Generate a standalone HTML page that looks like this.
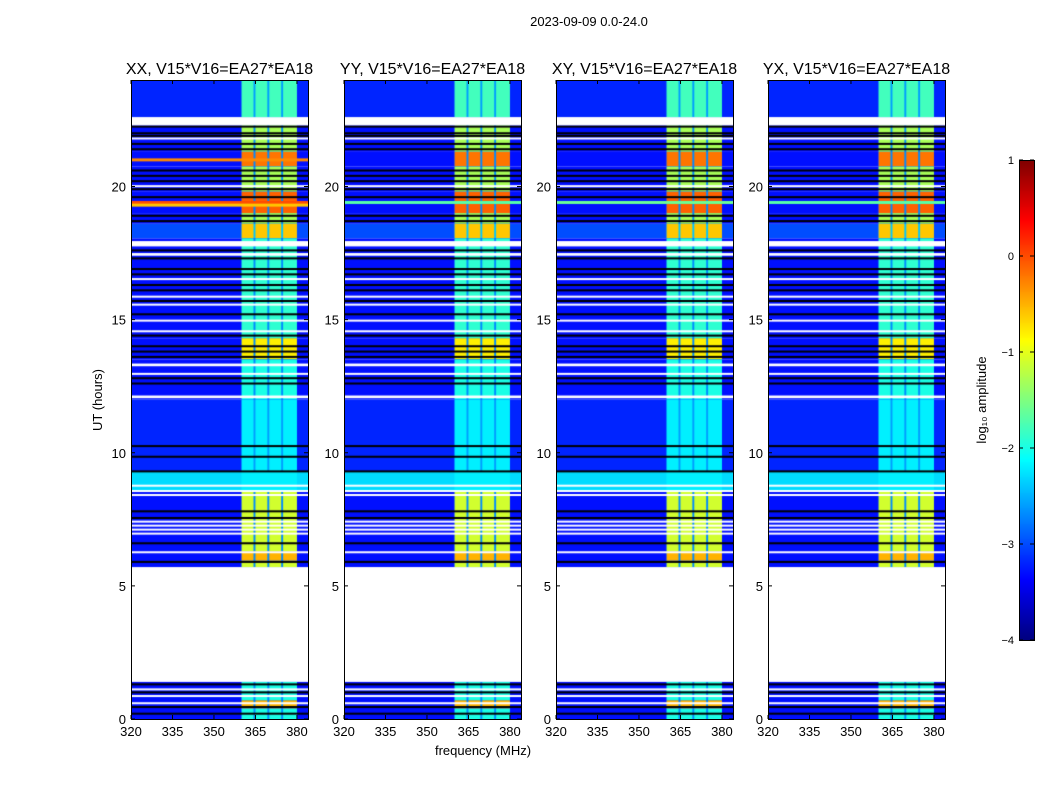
<!DOCTYPE html>
<html><head><meta charset="utf-8"><style>
body{margin:0;background:#fff;}
#root{position:relative;width:1050px;height:800px;font-family:"Liberation Sans",sans-serif;overflow:hidden;}
canvas{position:absolute;}
svg{position:absolute;left:0;top:0;}
</style></head><body>
<div id="root">
<svg id="svg" width="1050" height="800"></svg>
</div>
<script>
// ---- data ----
const panelTitles = ["XX, V15*V16=EA27*EA18","YY, V15*V16=EA27*EA18","XY, V15*V16=EA27*EA18","YX, V15*V16=EA27*EA18"];
const panelLefts = [131,344,556,768];
const xTicks = [320,335,350,365,380];
const yTicks = [0,5,10,15,20];
const cbTicks = [1,0,-1,-2,-3,-4];
// segments: [t0, t1, background log amp, rfi-band log amp]
const segT0 = [22.6,21.3,20.75,19.8,19.0,18.6,18.05,14.3,13.5,12.0,9.3,8.55,5.7,5.95,0,0.4];
const segT1 = [24,22.3,21.3,20.75,19.8,19.0,18.6,18.05,14.3,13.5,12.0,9.3,8.55,6.3,1.4,0.7];
const segBg = [-3.2,-3.3,-3.3,-3.3,-3.3,-3.3,-3.0,-3.3,-3.3,-3.3,-3.2,-2.3,-3.3,-3.3,-3.3,-3.3];
const segRfi = [-1.8,-1.3,-0.2,-1.3,-0.1,-1.3,-0.6,-1.9,-0.8,-2.0,-2.2,-2.2,-1.1,-0.5,-2.0,-0.5];
// rfi sub-bands (MHz)
const bandLo = [360,365,370,375];
const bandHi = [364.3,369.3,374.3,380];
// full-width lines per panel: times and levels
const lineT = [[21.0,19.4,19.3],[19.4],[19.4],[19.4]];
const lineV = [[-0.3,0.0,-0.6],[-1.7],[-1.6],[-1.7]];
// white (flagged) gaps
const gapT0 = [22.3,21.8,20.0,17.75,17.4,16.5,15.85,15.55,14.95,14.55,13.25,12.95,12.05,8.75,8.55,8.4,7.4,7.25,7.1,6.95,6.25,1.4,1.1,0.85,0.6];
const gapT1 = [22.6,21.84,20.05,17.95,17.5,16.56,15.9,15.6,15.0,14.6,13.35,13.0,12.15,8.8,8.6,8.45,7.45,7.3,7.15,7.0,6.3,5.7,1.15,0.9,0.63];
// dark lines
const darkT = [22.25,22.0,21.9,21.6,21.4,20.6,20.4,20.2,19.9,19.6,18.9,18.7,17.6,17.3,16.9,16.7,16.3,16.1,15.7,15.2,14.4,14.0,13.8,13.6,12.8,12.6,10.25,9.85,9.3,7.8,7.55,6.6,5.9,1.3,1.0,0.45,0.2];

// ---- geometry ----
const PW=177, PT=80, PH=639, F0=320, F1=384, T0=0, T1=24;
const fx = f => (f-F0)/(F1-F0)*PW;
const ty = t => PH-(t-T0)/(T1-T0)*PH;
function jet(v){
  const c=x=>Math.max(0,Math.min(1,x));
  const r=c(1.5-Math.abs(4*v-3)), g=c(1.5-Math.abs(4*v-2)), b=c(1.5-Math.abs(4*v-1));
  return `rgb(${Math.round(r*255)},${Math.round(g*255)},${Math.round(b*255)})`;
}
const col = a => jet((a+4)/5);

const root=document.getElementById('root');
const svg=document.getElementById('svg');
const NS='http://www.w3.org/2000/svg';
function txt(x,y,s,size,anchor,rot){
  const t=document.createElementNS(NS,'text');
  t.setAttribute('x',x);t.setAttribute('y',y);t.setAttribute('font-size',size);
  t.setAttribute('text-anchor',anchor||'middle');t.setAttribute('fill','#000');
  if(rot)t.setAttribute('transform',`rotate(-90 ${x} ${y})`);
  t.textContent=s;svg.appendChild(t);return t;
}
function line(x1,y1,x2,y2){
  const l=document.createElementNS(NS,'line');
  l.setAttribute('x1',x1);l.setAttribute('y1',y1);l.setAttribute('x2',x2);l.setAttribute('y2',y2);
  l.setAttribute('stroke','#000');l.setAttribute('stroke-width',1);svg.appendChild(l);return l;
}

panelLefts.forEach((L,p)=>{
  const cv=document.createElement('canvas');
  cv.width=PW;cv.height=PH;cv.style.left=L+'px';cv.style.top=PT+'px';
  
  
  root.insertBefore(cv,svg);
  const g=cv.getContext('2d');
  g.fillStyle='#fff';g.fillRect(0,0,PW,PH);
  for(let i=0;i<segT0.length;i++){
    const y0=ty(segT1[i]), y1=ty(segT0[i]);
    g.fillStyle=col(segBg[i]);g.fillRect(0,y0,PW,y1-y0);
    g.fillStyle=col(Math.min(segRfi[i],segBg[i]+0.6));g.fillRect(fx(bandLo[0]),y0,fx(bandHi[3])-fx(bandLo[0]),y1-y0);
    for(let b=0;b<bandLo.length;b++){
      g.fillStyle=col(segRfi[i]);g.fillRect(fx(bandLo[b]),y0,fx(bandHi[b])-fx(bandLo[b]),y1-y0);
    }
  }
  lineT[p].forEach((t,k)=>{g.fillStyle=col(lineV[p][k]);g.fillRect(0,ty(t)-1.5,PW,3);});
  darkT.forEach(t=>{g.fillStyle='#000';g.fillRect(0,ty(t)-1,PW,2);});
  for(let i=0;i<gapT0.length;i++){const y0=ty(gapT1[i]),y1=ty(gapT0[i]);g.fillStyle='#fff';g.fillRect(0,y0,PW,Math.max(2,y1-y0));}
  const r=document.createElementNS(NS,'rect');
  r.setAttribute('x',L+0.5);r.setAttribute('y',PT+0.5);r.setAttribute('width',PW);r.setAttribute('height',PH);
  r.setAttribute('fill','none');r.setAttribute('stroke','#000');
  
  
  svg.appendChild(r);
  const tt=txt(L+PW/2,74,panelTitles[p],16);
  
  
  xTicks.forEach(f=>{
    const x=L+fx(f);line(x,PT+PH,x,PH+PT-4);line(x,PT,x,PT+4);
    const l=txt(x,736,String(f),13);
    
    
  });
  yTicks.forEach(t=>{
    const y=PT+ty(t);line(L,y,L+4,y);line(L+PW,y,L+PW-4,y);
    const l=txt(L-5,y+5,String(t),13,'end');
    
    
  });
});

let e=txt(589,26,'2023-09-09 0.0-24.0',13);


e=txt(483,755,'frequency (MHz)',13);


e=txt(102,400,'UT (hours)',13,'middle',true);



const CBX=1019,CBY=160,CBW=15,CBH=480;
const cb=document.createElement('canvas');cb.width=CBW;cb.height=CBH;cb.style.left=CBX+'px';cb.style.top=CBY+'px';


root.insertBefore(cb,svg);
const cg=cb.getContext('2d');
for(let i=0;i<CBH;i++){cg.fillStyle=jet(1-i/(CBH-1));cg.fillRect(0,i,CBW,1);}
const cr=document.createElementNS(NS,'rect');
cr.setAttribute('x',CBX+0.5);cr.setAttribute('y',CBY+0.5);cr.setAttribute('width',CBW);cr.setAttribute('height',CBH);
cr.setAttribute('fill','none');cr.setAttribute('stroke','#000');svg.appendChild(cr);
cbTicks.forEach(v=>{
  const y=CBY+(1-v)/5*CBH;
  line(CBX,y,CBX+4,y);line(CBX+CBW,y,CBX+CBW-4,y);
  const l=txt(CBX-5,y+4,v<0?'\u2212'+(-v):String(v),11,'end');
  
  
});
e=txt(986,400,'log\u2081\u2080 amplitude',13,'middle',true);


</script>
</body></html>
